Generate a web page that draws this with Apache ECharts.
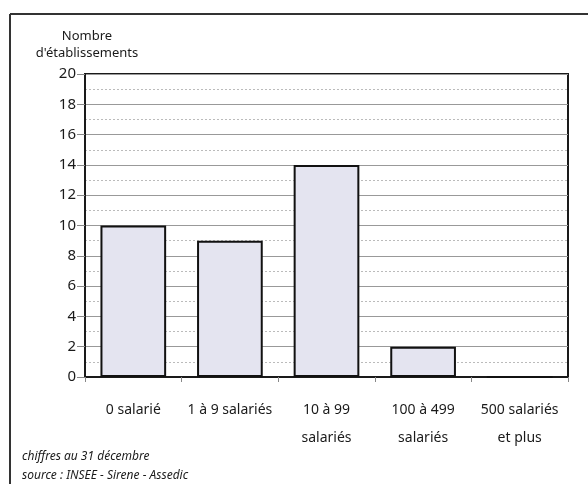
<!DOCTYPE html>
<html>
<head>
<meta charset="utf-8">
<script src="https://cdn.jsdelivr.net/npm/echarts@6/dist/echarts.min.js"></script>
<style>
html,body{margin:0;padding:0;background:#fff;}
#c{width:588px;height:484px;}
</style>
</head>
<body>
<div id="c"></div>
<script>
var categories = ['0 salarié', '1 à 9 salariés', '10 à 99\nsalariés', '100 à 499\nsalariés', '500 salariés\net plus'];
var values = [10, 9, 14, 2, 0];
var yTicks = [0, 2, 4, 6, 8, 10, 12, 14, 16, 18, 20];
var yTitle = ['Nombre', "d'établissements"];
var notes = ['chiffres au 31 décembre', 'source : INSEE - Sirene - Assedic'];

var FONT = 'Noto Sans';
var chart = echarts.init(document.getElementById('c'), null, {renderer: 'canvas'});
chart.setOption({
  animation: false,
  backgroundColor: '#fff',
  textStyle: {fontFamily: FONT},
  grid: {left: 85, right: 20, top: 74, bottom: 107, show: true, borderColor: '#1a1a1a', borderWidth: 2, backgroundColor: 'transparent'},
  xAxis: {
    type: 'category',
    data: categories,
    axisLine: {show: true, lineStyle: {color: '#1a1a1a', width: 2}},
    axisTick: {show: true, alignWithLabel: false, length: 5, lineStyle: {color: '#888'}},
    axisLabel: {color: '#1a1a1a', fontSize: 14, fontFamily: FONT, margin: 19, lineHeight: 28, interval: 0}
  },
  yAxis: {
    type: 'value',
    min: yTicks[0],
    max: yTicks[yTicks.length - 1],
    interval: 2,
    axisLine: {show: true, lineStyle: {color: '#1a1a1a', width: 2}},
    axisTick: {show: true, length: 8, lineStyle: {color: '#888'}},
    axisLabel: {color: '#1a1a1a', fontSize: 15, fontFamily: FONT, margin: 9},
    splitLine: {show: true, lineStyle: {color: '#999', width: 1}},
    minorTick: {show: false, splitNumber: 2},
    minorSplitLine: {show: true, lineStyle: {color: '#bbb', width: 1, type: [2, 2]}}
  },
  series: [{
    type: 'bar',
    data: values,
    barCategoryGap: '32%',
    itemStyle: {color: '#e4e4f0', borderColor: '#111', borderWidth: 2}
  }],
  graphic: [
    {type: 'line', shape: {x1: 10, y1: 14, x2: 588, y2: 14}, style: {stroke: '#333', lineWidth: 2}},
    {type: 'line', shape: {x1: 10, y1: 14, x2: 10, y2: 484}, style: {stroke: '#333', lineWidth: 2}},
    {type: 'text', x: 87, y: 36, style: {text: yTitle[0], font: '13px "' + FONT + '"', fill: '#1a1a1a', textAlign: 'center', textVerticalAlign: 'middle'}},
    {type: 'text', x: 87, y: 53, style: {text: yTitle[1], font: '13px "' + FONT + '"', fill: '#1a1a1a', textAlign: 'center', textVerticalAlign: 'middle'}},
    {type: 'text', x: 22, y: 457, style: {text: notes[0], font: 'italic 12px "' + FONT + '"', fill: '#1a1a1a', textAlign: 'left', textVerticalAlign: 'middle'}},
    {type: 'text', x: 22, y: 476, style: {text: notes[1], font: 'italic 12px "' + FONT + '"', fill: '#1a1a1a', textAlign: 'left', textVerticalAlign: 'middle'}}
  ]
});
</script>
</body>
</html>
